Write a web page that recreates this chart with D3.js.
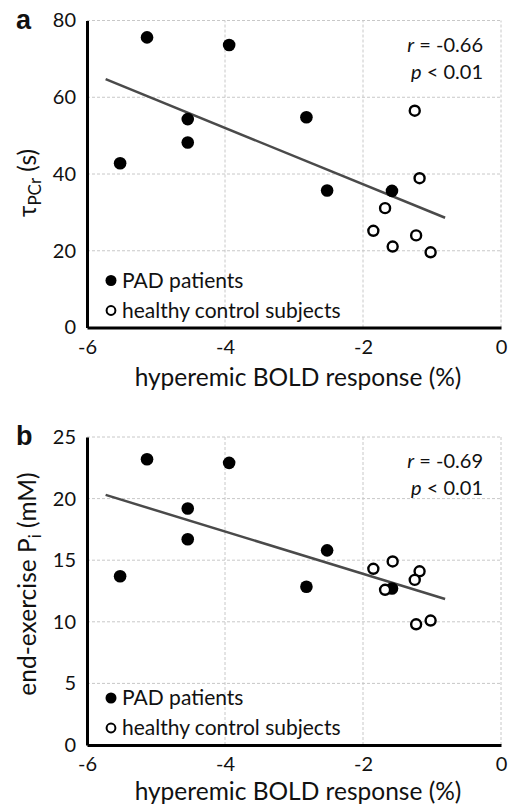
<!doctype html>
<html>
<head>
<meta charset="utf-8">
<title>BOLD response scatterplots</title>
<script src="https://d3js.org/d3.v7.min.js"></script>
<style>
  body { margin: 0; background: #fff; }
  svg text { font-family: Lato, "Open Sans", sans-serif; fill: #111; }
  .grid line { stroke: #c8c8c8; stroke-width: 1; stroke-dasharray: 3,2; }
  .tick-label { font-size: 20px; }
  .axis-title { font-size: 24.5px; }
  .legend-text { font-size: 21px; }
  .stats { font-size: 20px; }
  .panel-label { font-size: 27px; font-weight: bold; font-family: Arial, "Liberation Sans", sans-serif; }
</style>
</head>
<body>
<div id="chart"></div>
<script>
// x values: hyperemic BOLD response (%)
const padX = [-5.52, -5.13, -3.94, -4.54, -4.54, -2.82, -2.52, -1.58];
const ctrlX = [-1.25, -1.18, -1.68, -1.85, -1.57, -1.23, -1.02];

// panel a: tau PCr (s)
const padTau = [42.8, 75.6, 73.6, 54.3, 48.2, 54.8, 35.7, 35.6];
const ctrlTau = [56.5, 38.9, 31.1, 25.2, 21.1, 24.0, 19.6];

// panel b: end-exercise Pi (mM)
const ctrlXb = [-1.85, -1.57, -1.68, -1.18, -1.25, -1.23, -1.02];
const padPi = [13.7, 23.2, 22.9, 19.2, 16.7, 12.85, 15.8, 12.7];
const ctrlPi = [14.3, 14.9, 12.6, 14.1, 13.4, 9.8, 10.1];

// regression lines (endpoints)
const fitX = [-5.73, -0.81];
const fitTau = [64.7, 28.6];
const fitPi = [20.3, 11.85];

const xTicks = [-6, -4, -2, 0];
const tauTicks = [0, 20, 40, 60, 80];
const piTicks = [0, 5, 10, 15, 20, 25];

const w = 514, h = 807;

const svg = d3.select("#chart").append("svg")
    .attr("width", w)
    .attr("height", h);

function drawPanel(opts) {
    const x = d3.scaleLinear().domain([-6, 0]).range([87, 501]);
    const y = d3.scaleLinear().domain(opts.yDomain).range(opts.yRange);
    const g = svg.append("g");

    // grid
    const grid = g.append("g").attr("class", "grid");
    grid.selectAll("line.gx")
        .data(xTicks.slice(1))
        .enter().append("line")
        .attr("x1", d => x(d)).attr("x2", d => x(d))
        .attr("y1", opts.yRange[0]).attr("y2", opts.yRange[1]);
    grid.selectAll("line.gy")
        .data(opts.yTicks.slice(1))
        .enter().append("line")
        .attr("x1", x(-6)).attr("x2", x(0))
        .attr("y1", d => y(d)).attr("y2", d => y(d));

    // axes
    const xAxis = d3.axisBottom(x).tickValues(xTicks).tickSize(0).tickPadding(12)
        .tickFormat(d => String(d));
    const gx = g.append("g")
        .attr("transform", "translate(0," + opts.yRange[0] + ")")
        .call(xAxis);
    gx.select(".domain").attr("stroke", "#000").attr("stroke-width", 3);
    gx.selectAll("text").attr("class", "tick-label").attr("fill", "#111");

    const yAxis = d3.axisLeft(y).tickValues(opts.yTicks).tickSize(0).tickPadding(11)
        .tickFormat(d => String(d));
    const gy = g.append("g")
        .attr("transform", "translate(87,0)")
        .call(yAxis);
    gy.select(".domain").attr("stroke", "#000").attr("stroke-width", 3);
    gy.selectAll("text").attr("class", "tick-label").attr("fill", "#111");

    // regression line
    g.append("line")
        .attr("x1", x(fitX[0])).attr("y1", y(opts.fit[0]))
        .attr("x2", x(fitX[1])).attr("y2", y(opts.fit[1]))
        .attr("stroke", "#4a4a4a")
        .attr("stroke-width", 2.5);

    // points
    g.selectAll("circle.pad")
        .data(opts.padY)
        .enter().append("circle")
        .attr("cx", (d, i) => x(padX[i]))
        .attr("cy", d => y(d))
        .attr("r", 6.3)
        .attr("fill", "#000");

    g.selectAll("circle.ctrl")
        .data(opts.ctrlY)
        .enter().append("circle")
        .attr("cx", (d, i) => x(opts.ctrlX[i]))
        .attr("cy", d => y(d))
        .attr("r", 5)
        .attr("fill", "#fff")
        .attr("stroke", "#000")
        .attr("stroke-width", 2.4);

    // stats
    const st = g.append("text").attr("class", "stats")
        .attr("text-anchor", "end")
        .attr("x", 483).attr("y", opts.yRange[1] + 31);
    st.append("tspan").attr("font-style", "italic").text("r");
    st.append("tspan").text(" = " + opts.r);
    const sp = g.append("text").attr("class", "stats")
        .attr("text-anchor", "end")
        .attr("x", 483).attr("y", opts.yRange[1] + 58);
    sp.append("tspan").attr("font-style", "italic").text("p");
    sp.append("tspan").text(" < 0.01");

    // legend
    const ly = opts.yRange[0] - 47;
    g.append("circle").attr("cx", 111).attr("cy", ly).attr("r", 5.5).attr("fill", "#000");
    g.append("text").attr("class", "legend-text").attr("x", 122).attr("y", ly + 7).text("PAD patients");
    g.append("circle").attr("cx", 111).attr("cy", ly + 30).attr("r", 4.4)
        .attr("fill", "#fff").attr("stroke", "#000").attr("stroke-width", 2);
    g.append("text").attr("class", "legend-text").attr("x", 122).attr("y", ly + 37).text("healthy control subjects");

    // titles
    g.append("text").attr("class", "axis-title")
        .attr("text-anchor", "middle")
        .attr("x", 298).attr("y", opts.yRange[0] + opts.xTitleDy)
        .text("hyperemic BOLD response (%)");

    const yt = g.append("text").attr("class", "axis-title")
        .attr("text-anchor", "middle")
        .attr("transform", "translate(36," + opts.yTitleY + ") rotate(-90)");
    opts.yTitle(yt);

    g.append("text").attr("class", "panel-label")
        .attr("x", 16).attr("y", opts.yRange[1] + 8)
        .text(opts.label);
}

drawPanel({
    yDomain: [0, 80], yRange: [327.5, 20.5], yTicks: tauTicks,
    padY: padTau, ctrlY: ctrlTau, ctrlX: ctrlX, fit: fitTau, r: "-0.66", label: "a",
    yTitleY: 183, xTitleDy: 58,
    yTitle: function (t) {
        t.append("tspan").text("\u03c4");
        t.append("tspan").attr("font-size", "17px").attr("dy", 5).text("PCr");
        t.append("tspan").attr("dy", -5).text(" (s)");
    }
});

drawPanel({
    yDomain: [0, 25], yRange: [745, 437], yTicks: piTicks,
    padY: padPi, ctrlY: ctrlPi, ctrlX: ctrlXb, fit: fitPi, r: "-0.69", label: "b",
    yTitleY: 584, xTitleDy: 55,
    yTitle: function (t) {
        t.append("tspan").text("end-exercise P");
        t.append("tspan").attr("font-size", "17px").attr("dy", 5).text("i");
        t.append("tspan").attr("dy", -5).text(" (mM)");
    }
});
</script>
</body>
</html>
